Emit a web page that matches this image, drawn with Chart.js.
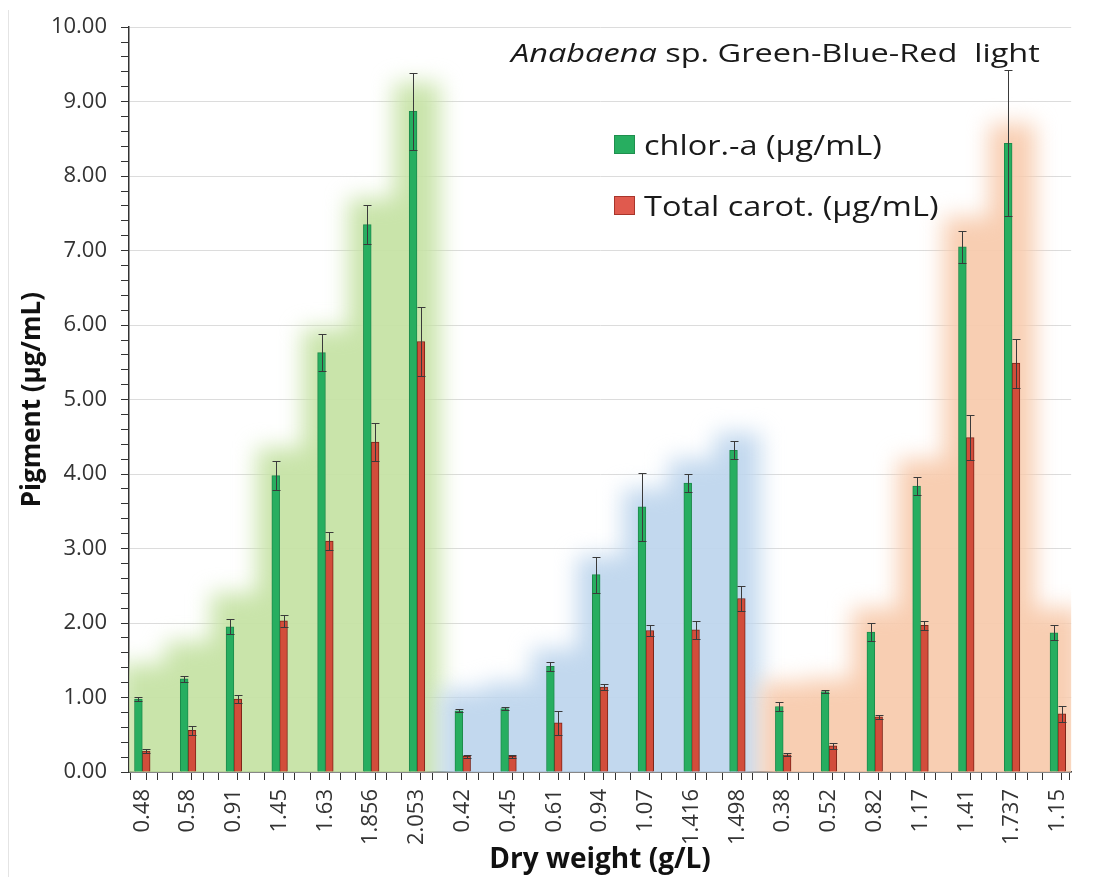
<!DOCTYPE html>
<html>
<head>
<meta charset="utf-8">
<script src="https://cdn.jsdelivr.net/npm/chart.js@4.4.1/dist/chart.umd.min.js"></script>
<style>
  body { margin: 0; background: #fff; }
  #wrap { position: relative; width: 1101px; height: 877px; }
  #frame { position: absolute; left: 8px; top: 10px; bottom: 0; border-left: 1px solid #e4e4e4; }
</style>
</head>
<body>
<div id="wrap">
  <div id="frame"></div>
  <canvas id="pigmentChart"></canvas>
</div>
<script>
// Dry weight (g/L) for each culture, in plotting order
const dryWeight = ["0.48", "0.58", "0.91", "1.45", "1.63", "1.856", "2.053",
  "0.42", "0.45", "0.61", "0.94", "1.07", "1.416", "1.498",
  "0.38", "0.52", "0.82", "1.17", "1.41", "1.737", "1.15"];

// chlorophyll a (µg/mL) and its error
const chlorA = [0.98, 1.25, 1.95, 3.98, 5.63, 7.35, 8.87,
  0.82, 0.85, 1.42, 2.65, 3.56, 3.88, 4.32,
  0.88, 1.08, 1.88, 3.84, 7.05, 8.44, 1.87];
const chlorAErr = [0.03, 0.04, 0.1, 0.2, 0.25, 0.26, 0.52,
  0.02, 0.02, 0.06, 0.24, 0.46, 0.12, 0.12,
  0.06, 0.02, 0.12, 0.12, 0.22, 0.98, 0.1];

// total carotenoids (µg/mL) and its error
const carot = [0.28, 0.56, 0.98, 2.03, 3.1, 4.43, 5.78,
  0.21, 0.21, 0.66, 1.14, 1.9, 1.91, 2.33,
  0.23, 0.35, 0.74, 1.97, 4.49, 5.49, 0.78];
const carotErr = [0.03, 0.06, 0.05, 0.08, 0.12, 0.25, 0.46,
  0.02, 0.02, 0.16, 0.04, 0.08, 0.12, 0.17,
  0.02, 0.04, 0.03, 0.06, 0.3, 0.33, 0.11];

// light colour of each culture and the top of its shaded band
const lightGroup = ["green", "green", "green", "green", "green", "green", "green",
  "blue", "blue", "blue", "blue", "blue", "blue", "blue",
  "red", "red", "red", "red", "red", "red", "red"];
const bandTop = [1.45, 1.75, 2.4, 4.35, 5.95, 7.7, 9.25,
  1.1, 1.2, 1.65, 2.9, 3.8, 4.2, 4.55,
  1.2, 1.25, 2.2, 4.2, 7.45, 8.7, 2.2];

const bandColors = { green: "rgb(197, 226, 164)", blue: "rgb(189, 213, 237)", red: "rgb(248, 202, 172)" };
const FONT = "'Open Sans', sans-serif";

// soft coloured bands behind each light treatment
const bandPlugin = {
  id: "bands",
  beforeDatasetsDraw(chart) {
    const { ctx, chartArea, scales } = chart;
    ctx.save();
    ctx.beginPath();
    ctx.rect(chartArea.left, chartArea.top, chartArea.right - chartArea.left, chartArea.bottom - chartArea.top);
    ctx.clip();
    ctx.filter = "blur(11px)";
    ctx.globalAlpha = 0.93;
    for (const g of ["green", "blue", "red"]) {
      ctx.beginPath();
      bandTop.forEach((top, i) => {
        if (lightGroup[i] !== g) return;
        const x0 = scales.x.getPixelForValue(i - 0.5);
        const x1 = scales.x.getPixelForValue(i + 0.5);
        const y0 = scales.y.getPixelForValue(top);
        ctx.rect(x0, y0, x1 - x0, chartArea.bottom + 40 - y0);
      });
      ctx.fillStyle = bandColors[g];
      ctx.fill();
    }
    ctx.restore();
  }
};

// error bars on top of every bar
const errorBarPlugin = {
  id: "errorBars",
  afterDatasetsDraw(chart) {
    const { ctx, scales } = chart;
    const errs = [chlorAErr, carotErr];
    ctx.save();
    ctx.strokeStyle = "#3a3a3a";
    ctx.lineWidth = 1;
    chart.data.datasets.forEach((ds, d) => {
      chart.getDatasetMeta(d).data.forEach((bar, i) => {
        const v = ds.data[i].y;
        const e = errs[d][i];
        const x = Math.round(bar.x) + 0.5;
        const yt = Math.round(scales.y.getPixelForValue(v + e)) + 0.5;
        const yb = Math.round(scales.y.getPixelForValue(v - e)) + 0.5;
        const w = 4;
        ctx.beginPath();
        ctx.moveTo(x, yt); ctx.lineTo(x, yb);
        ctx.moveTo(x - w, yt); ctx.lineTo(x + w, yt);
        ctx.moveTo(x - w, yb); ctx.lineTo(x + w, yb);
        ctx.stroke();
      });
    });
    ctx.restore();
  }
};

// wide text, drawn with a horizontal stretch
function wideText(ctx, text, x, y, sx) {
  ctx.save();
  ctx.translate(x, y);
  ctx.scale(sx, 1);
  ctx.fillText(text, 0, 0);
  const w = ctx.measureText(text).width * sx;
  ctx.restore();
  return w;
}

// caption and legend inside the plot area
const captionPlugin = {
  id: "caption",
  afterDraw(chart) {
    const { ctx } = chart;
    ctx.save();
    ctx.fillStyle = "#1a1a1a";
    ctx.textBaseline = "alphabetic";
    ctx.font = "italic 26px " + FONT;
    const w = wideText(ctx, "Anabaena", 511, 62, 1.25);
    ctx.font = "26px " + FONT;
    wideText(ctx, " sp. Green-Blue-Red  light", 511 + w, 62, 1.25);

    const items = [
      { text: "chlor.-a (µg/mL)", fill: "#27ae60", stroke: "#1f8f4e", y: 155 },
      { text: "Total carot. (µg/mL)", fill: "#e05a4e", stroke: "#a8352b", y: 216 }
    ];
    ctx.font = "28px " + FONT;
    items.forEach(it => {
      ctx.fillStyle = it.fill;
      ctx.fillRect(614, it.y - 20, 21, 19);
      ctx.strokeStyle = it.stroke;
      ctx.lineWidth = 1;
      ctx.strokeRect(614.5, it.y - 19.5, 20, 18);
      ctx.fillStyle = "#1a1a1a";
      wideText(ctx, it.text, 644, it.y, 1.16);
    });
    ctx.restore();
  }
};

const isWhole = v => Math.abs(v - Math.round(v)) < 1e-6;

const ctx = document.getElementById("pigmentChart").getContext("2d");
const pigmentChart = new Chart(ctx, {
  type: "bar",
  data: {
    datasets: [
      {
        label: "chlor.-a (µg/mL)",
        data: chlorA.map((v, i) => ({ x: i, y: v })),
        backgroundColor: "#27ae60",
        borderColor: "#1d8a4b",
        borderWidth: 1,
        barThickness: 7.8
      },
      {
        label: "Total carot. (µg/mL)",
        data: carot.map((v, i) => ({ x: i, y: v })),
        backgroundColor: "#d24d3b",
        borderColor: "#7e2418",
        borderWidth: 1,
        barThickness: 7.8
      }
    ]
  },
  options: {
    responsive: true,
    maintainAspectRatio: false,
    animation: false,
    layout: { padding: { top: 25, right: 18, left: 0, bottom: 0 } },
    plugins: {
      legend: { display: false },
      tooltip: { enabled: false }
    },
    scales: {
      x: {
        type: "linear",
        min: -1 / 6,
        max: 20 + 1 / 6,
        afterBuildTicks(scale) {
          const t = [];
          dryWeight.forEach((_, i) => {
            t.push({ value: i - 1 / 6 }, { value: i }, { value: i + 1 / 6 });
            if (i < dryWeight.length - 1) t.push({ value: i + 0.5 });
          });
          scale.ticks = t;
        },
        afterFit(scale) { scale.height = 877 - 772; },
        border: { display: true, color: "#333", width: 1.5 },
        grid: {
          drawOnChartArea: false,
          tickLength: 8,
          tickColor: c => (c.tick && isWhole(c.tick.value)) ? "rgba(0,0,0,0)" : "#333"
        },
        ticks: {
          autoSkip: false,
          minRotation: 90,
          maxRotation: 90,
          padding: 9,
          color: "#333",
          font: { family: FONT, size: 22 },
          callback: v => isWhole(v) ? dryWeight[Math.round(v)] : ""
        },
        title: {
          display: true,
          text: "Dry weight (g/L)",
          color: "#111",
          font: { family: FONT, size: 28, weight: "bold" },
          padding: { top: 0, bottom: 0 }
        }
      },
      y: {
        min: 0,
        max: 10,
        afterBuildTicks(scale) {
          const t = [];
          for (let k = 0; k <= 50; k++) t.push({ value: k / 5 });
          scale.ticks = t;
        },
        afterFit(scale) { scale.width = 129; },
        border: { display: true, color: "#333", width: 1.5 },
        grid: {
          color: c => (c.tick && isWhole(c.tick.value)) ? "#dcdcdc" : "rgba(0,0,0,0)",
          tickColor: "#333",
          tickLength: 8
        },
        ticks: {
          autoSkip: false,
          padding: 14,
          color: "#333",
          font: { family: FONT, size: 22 },
          callback: v => isWhole(v) ? v.toFixed(2) : ""
        },
        title: {
          display: true,
          text: "Pigment (µg/mL)",
          color: "#111",
          font: { family: FONT, size: 26, weight: "bold" },
          padding: { top: 17, bottom: 4 }
        }
      }
    }
  },
  plugins: [bandPlugin, errorBarPlugin, captionPlugin]
});
</script>
</body>
</html>
